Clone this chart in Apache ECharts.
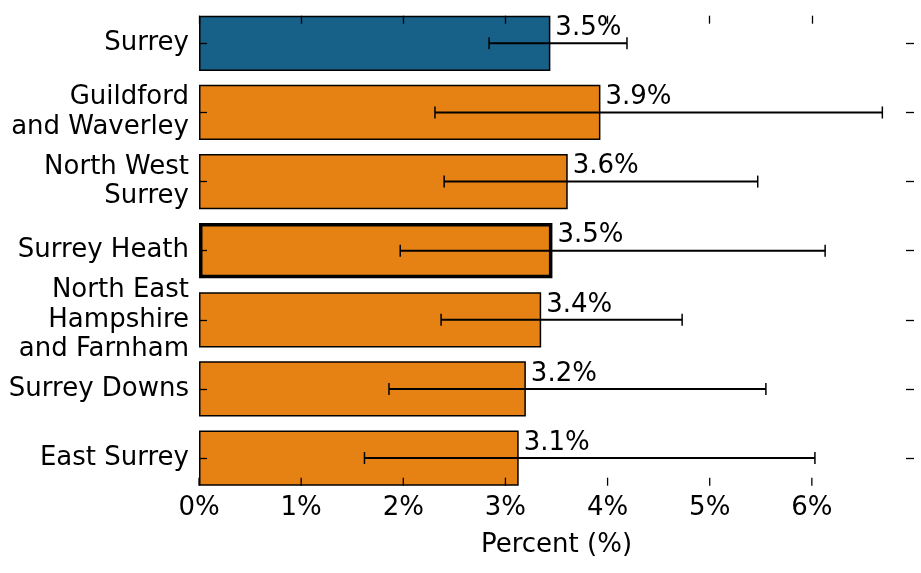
<!DOCTYPE html>
<html><head><meta charset="utf-8">
<script src="https://cdn.jsdelivr.net/npm/echarts@6/dist/echarts.min.js"></script>
<style>html,body{margin:0;padding:0;background:#fff}#c{width:921px;height:573px}</style>
</head><body><div id="c"></div>
<script>
const categories = ['Surrey', 'Guildford\nand Waverley', 'North West\nSurrey', 'Surrey Heath', 'North East\nHampshire\nand Farnham', 'Surrey Downs', 'East Surrey'];
const values = [3.44, 3.93, 3.61, 3.46, 3.35, 3.20, 3.13];
const lower = [2.84, 2.31, 2.40, 1.97, 2.37, 1.86, 1.62];
const upper = [4.19, 6.69, 5.47, 6.13, 4.73, 5.55, 6.03];
const valueLabels = ['3.5%', '3.9%', '3.6%', '3.5%', '3.4%', '3.2%', '3.1%'];
const xTicks = [0, 1, 2, 3, 4, 5, 6];
const xMax = 7;
const regionName = 'Surrey';
const selectedName = 'Surrey Heath';

const FONT = 'DejaVu Sans';
const FS = 26;
const AXIS_OFFSET = 27.65;
const TICK_LEN = 8;
const chart = echarts.init(document.getElementById('c'), null, {renderer: 'canvas'});

const barData = values.map((v, i) => ({
  value: v,
  itemStyle: {
    color: categories[i] === regionName ? '#176087' : '#e68213',
    borderColor: '#000',
    borderWidth: categories[i] === selectedName ? 3.5 : 1.5
  }
}));
const errData = categories.map((c, i) => [i, lower[i], upper[i]]);
const bottomTickData = xTicks.map(v => [v, categories.length - 1]);

const tickStyle = {color: '#000', width: 1.3};
const option = {
  animation: false,
  backgroundColor: '#fff',
  grid: {left: 199, right: 7, top: 43.35, bottom: 114.95, containLabel: false, outerBoundsMode: 'none'},
  xAxis: [
    {
      type: 'value', min: 0, max: xMax, position: 'bottom', offset: AXIS_OFFSET, z: 10,
      axisLine: {show: false, onZero: false}, splitLine: {show: false},
      axisTick: {show: false},
      axisLabel: {customValues: xTicks, formatter: v => v + '%', color: '#000', fontSize: FS, fontFamily: FONT, margin: 10},
      name: 'Percent (%)', nameLocation: 'middle', nameGap: 47,
      nameTextStyle: {color: '#000', fontSize: FS, fontFamily: FONT}
    },
    {
      type: 'value', min: 0, max: xMax, position: 'top', offset: AXIS_OFFSET, z: 10,
      axisLine: {show: false, onZero: false}, splitLine: {show: false},
      axisTick: {show: true, inside: true, length: TICK_LEN, customValues: xTicks, lineStyle: tickStyle},
      axisLabel: {show: false}
    }
  ],
  yAxis: [
    {
      type: 'category', data: categories, inverse: true, boundaryGap: false, position: 'left', z: 10,
      axisLine: {show: false, onZero: false}, splitLine: {show: false},
      axisTick: {show: true, inside: true, length: TICK_LEN, interval: 0, lineStyle: tickStyle},
      axisLabel: {interval: 0, color: '#000', fontSize: FS, lineHeight: 29.5, fontFamily: FONT, margin: 10, align: 'right'}
    },
    {
      type: 'category', data: categories, inverse: true, boundaryGap: false, position: 'right', z: 10,
      axisLine: {show: false, onZero: false}, splitLine: {show: false},
      axisTick: {show: true, inside: true, length: TICK_LEN, interval: 0, lineStyle: tickStyle},
      axisLabel: {show: false}
    }
  ],
  series: [
    {
      type: 'bar', xAxisIndex: 0, yAxisIndex: 0, data: barData, barWidth: 55.3, clip: false, z: 2,
      label: {
        show: true, position: 'right', distance: 5, offset: [0, -15],
        formatter: p => valueLabels[p.dataIndex],
        color: '#000', fontSize: FS, fontFamily: FONT
      }
    },
    {
      type: 'custom', xAxisIndex: 0, yAxisIndex: 0, data: errData, z: 5, clip: false,
      encode: {y: 0, x: [1, 2]},
      renderItem: (params, api) => {
        const idx = api.value(0);
        const lo = api.coord([api.value(1), idx]);
        const hi = api.coord([api.value(2), idx]);
        const cap = 6;
        return {
          type: 'group',
          children: [
            {type: 'line', shape: {x1: lo[0], y1: lo[1], x2: hi[0], y2: hi[1]}, style: {stroke: '#000', lineWidth: 2}},
            {type: 'line', shape: {x1: lo[0], y1: lo[1] - cap, x2: lo[0], y2: lo[1] + cap}, style: {stroke: '#000', lineWidth: 1.5}},
            {type: 'line', shape: {x1: hi[0], y1: hi[1] - cap, x2: hi[0], y2: hi[1] + cap}, style: {stroke: '#000', lineWidth: 1.5}}
          ]
        };
      }
    },
    {
      type: 'custom', xAxisIndex: 0, yAxisIndex: 0, data: bottomTickData, z: 10, clip: false, silent: true,
      encode: {x: 0, y: 1},
      renderItem: (params, api) => {
        const p = api.coord([api.value(0), api.value(1)]);
        const yb = p[1] + AXIS_OFFSET;
        return {
          type: 'line',
          shape: {x1: p[0], y1: yb, x2: p[0], y2: yb - TICK_LEN},
          style: {stroke: '#000', lineWidth: 1.3}
        };
      }
    }
  ]
};
chart.setOption(option);
</script>
</body></html>
